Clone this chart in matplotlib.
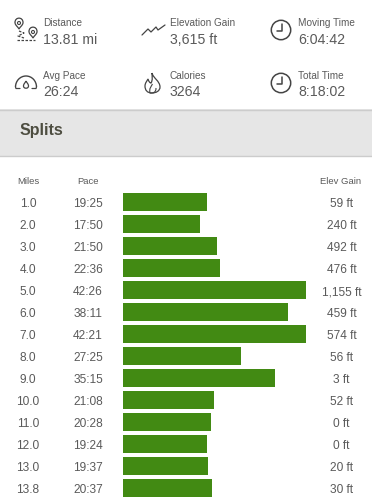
import matplotlib
matplotlib.use("Agg")
import matplotlib.pyplot as plt
from matplotlib.patches import Rectangle, Circle, Arc, PathPatch
from matplotlib.path import Path

plt.rcParams['font.family'] = ['Liberation Sans', 'DejaVu Sans']

miles = ['1.0', '2.0', '3.0', '4.0', '5.0', '6.0', '7.0', '8.0', '9.0', '10.0', '11.0', '12.0', '13.0', '13.8']
pace = ['19:25', '17:50', '21:50', '22:36', '42:26', '38:11', '42:21', '27:25', '35:15', '21:08', '20:28', '19:24', '19:37', '20:37']
elev = ['59 ft', '240 ft', '492 ft', '476 ft', '1,155 ft', '459 ft', '574 ft', '56 ft', '3 ft', '52 ft', '0 ft', '0 ft', '20 ft', '30 ft']

stat_labels = ['Distance', 'Elevation Gain', 'Moving Time', 'Avg Pace', 'Calories', 'Total Time']
stat_values = ['13.81 mi', '3,615 ft', '6:04:42', '26:24', '3264', '8:18:02']

W, H = 372, 502
GREEN = '#428a13'
TEXT = '#5a5a5a'
ICON = '#444444'


def seconds(p):
    m, s = p.split(':')
    return int(m) * 60 + int(s)


fig = plt.figure(figsize=(W / 100, H / 100), dpi=100)

# page layer in pixel coords, top-down
page = fig.add_axes([0, 0, 1, 1])
page.set_xlim(0, W)
page.set_ylim(H, 0)
page.axis('off')

# header band
page.add_patch(Rectangle((0, 110), W, 47, fc='#e6e6e6', ec='none'))
page.plot([0, W], [110.5, 110.5], color='#cccccc', lw=1)
page.plot([0, W], [156.5, 156.5], color='#cccccc', lw=1)
page.text(20, 131, 'Splits', fontsize=11.5, fontweight='bold', color='#4d4d40', va='center')

# stats
stat_x = [43, 170, 298]
stat_y = [23, 76]
for i in range(len(stat_labels)):
    x = stat_x[i % 3]
    y = stat_y[i // 3]
    page.text(x, y, stat_labels[i], fontsize=7.2, color=TEXT, va='center')
    page.text(x, y + 16.5, stat_values[i], fontsize=10.2, color=TEXT, va='center')


# icons
def line(xs, ys, lw=0.9, ls='-'):
    page.plot(xs, ys, color=ICON, lw=lw, ls=ls, solid_capstyle='round')


def pin(cx, cy):
    verts = [(cx - 4, cy), (cx - 4.5, cy - 6.5), (cx + 4.5, cy - 6.5), (cx + 4, cy),
             (cx + 3.5, cy + 2.5), (cx + 1, cy + 4), (cx, cy + 6),
             (cx - 1, cy + 4), (cx - 3.5, cy + 2.5), (cx - 4, cy)]
    codes = [Path.MOVETO] + [Path.CURVE4] * 9
    page.add_patch(PathPatch(Path(verts, codes), fc='none', ec=ICON, lw=0.9))
    page.add_patch(Circle((cx, cy), 1.5, fc='none', ec=ICON, lw=0.8))


def clock(cx, cy):
    page.add_patch(Circle((cx, cy), 9.7, fc='none', ec=ICON, lw=1.1))
    line([cx + 0.5, cx + 0.5, cx - 4], [cy - 6, cy + 1, cy + 1], lw=1.1)


pin(19, 24)
pin(33, 33)
line([19, 24, 18, 24], [32, 34, 37, 39], ls=(0, (2, 1.2)))
line([17, 35], [40.5, 40.5], ls=(0, (2, 1.2)))
line([142, 148, 151, 156, 158, 165], [36, 30, 33, 28, 31, 26])
clock(281, 31)
clock(281, 84)
page.add_patch(Arc((26, 88), 21, 22, theta1=180, theta2=360, ec=ICON, lw=1.0))
line([15.5, 16, 20], [88, 89.5, 89.5])
line([36.5, 36, 32], [88, 89.5, 89.5])
drop = [(26, 82), (25, 84), (23.5, 85), (23.5, 87), (23.5, 90), (28.5, 90), (28.5, 87), (28.5, 85), (27, 84), (26, 82)]
page.add_patch(PathPatch(Path(drop, [Path.MOVETO] + [Path.CURVE4] * 9), fc='none', ec=ICON, lw=0.9))
flame = [(152, 74), (153, 79), (160, 82), (160, 88), (160, 92), (156, 94), (152, 94),
         (147, 94), (145, 91), (145, 87), (145, 84), (147, 82), (148, 80),
         (149, 83), (150, 84), (151, 84), (153, 81), (152, 77), (152, 74)]
page.add_patch(PathPatch(Path(flame, [Path.MOVETO] + [Path.CURVE4] * 18), fc='none', ec=ICON, lw=0.9))
inner = [(152.5, 85), (151, 88), (149, 89), (150, 94), (153, 94), (156, 94), (156, 89)]
page.add_patch(PathPatch(Path(inner, [Path.MOVETO] + [Path.CURVE4] * 6), fc='none', ec=ICON, lw=0.8))

# table headings
ROW0, STEP = 203, 22
page.text(28, 182, 'Miles', fontsize=6.8, color=TEXT, ha='center', va='center')
page.text(88, 182, 'Pace', fontsize=6.8, color=TEXT, ha='center', va='center')
page.text(341, 182, 'Elev Gain', fontsize=6.8, color=TEXT, ha='center', va='center')

for i in range(len(miles)):
    y = ROW0 + i * STEP + 1.5
    page.text(28, y, miles[i], fontsize=8.6, color=TEXT, ha='center', va='center')
    page.text(88, y, pace[i], fontsize=8.6, color=TEXT, ha='center', va='center')
    page.text(341.5, y, elev[i], fontsize=8.6, color=TEXT, ha='center', va='center')

# bars
pace_sec = [seconds(p) for p in pace]
top = ROW0 - STEP / 2
ax = fig.add_axes([123 / W, 1 - (top + STEP * len(miles)) / H, 183 / W, STEP * len(miles) / H])
ax.barh(range(len(miles)), pace_sec, height=18 / 22, color=GREEN)
ax.set_xlim(0, max(pace_sec))
ax.set_ylim(len(miles) - 0.5, -0.5)
ax.axis('off')

fig.savefig('out.png', dpi=100)
